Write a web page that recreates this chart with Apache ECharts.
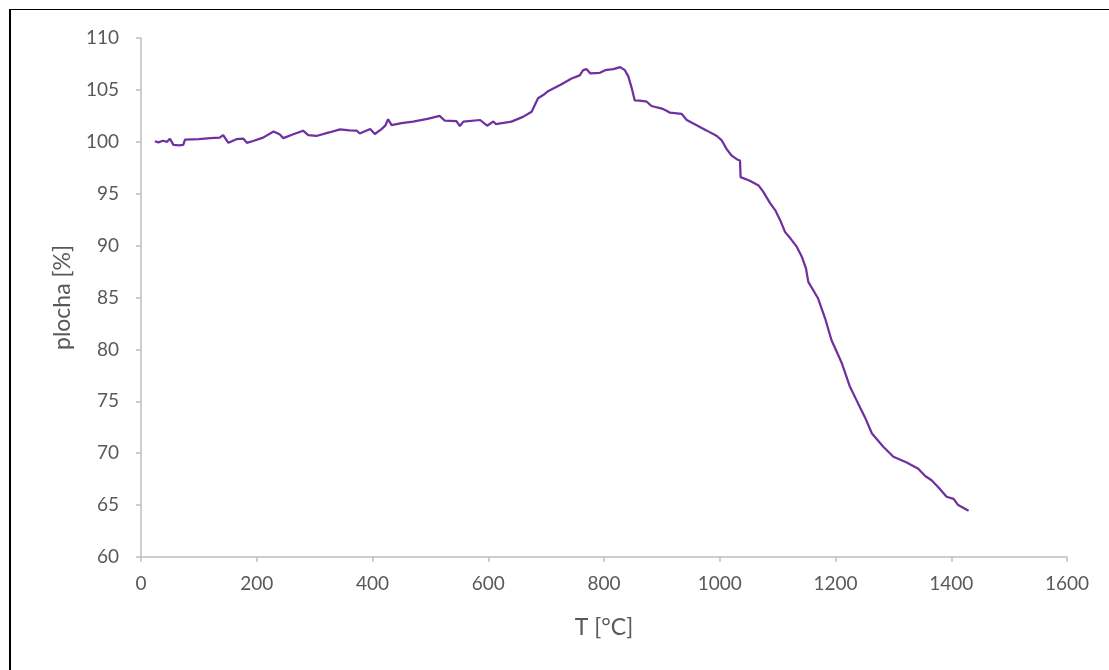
<!DOCTYPE html>
<html>
<head>
<meta charset="utf-8">
<script src="https://cdn.jsdelivr.net/npm/echarts@6/dist/echarts.min.js"></script>
<style>
html,body{margin:0;padding:0;background:#fff;}
#c{width:1109px;height:670px;position:relative;}
#frame{position:absolute;left:9px;top:9px;width:1200px;height:800px;border-left:2px solid #000;border-top:1px solid #000;box-sizing:border-box;pointer-events:none;}
</style>
</head>
<body>
<div id="c"></div>
<div id="frame"></div>
<script>
const temps = [24,30,38,45,50,56,66,73,76,100,120,136,142,151,165,177,183,195,211,229,240,246,262,280,289,303,325,344,360,373,378,396,404,415,422,427,433,450,470,495,516,525,545,551,557,586,598,609,613,640,660,675,686,695,704,725,744,758,764,770,776,793,802,816,828,836,842,848,853,862,874,882,900,908,914,934,943,960,977,995,1003,1012,1020,1030,1035,1036,1052,1067,1075,1087,1096,1104,1113,1122,1133,1142,1149,1153,1170,1182,1193,1211,1225,1239,1251,1263,1283,1300,1323,1343,1355,1366,1378,1392,1404,1412,1430];
const area = [100.05,99.95,100.1,100.0,100.3,99.7,99.65,99.7,100.2,100.25,100.35,100.4,100.65,99.9,100.25,100.3,99.9,100.1,100.4,101.0,100.7,100.35,100.7,101.07,100.65,100.56,100.9,101.2,101.1,101.07,100.8,101.23,100.75,101.2,101.55,102.17,101.6,101.8,101.94,102.2,102.5,102.03,102.0,101.52,101.94,102.1,101.55,101.97,101.7,101.94,102.4,102.9,104.2,104.5,104.9,105.5,106.1,106.4,106.9,107.0,106.6,106.65,106.9,107.0,107.2,106.9,106.3,105.15,104.0,103.96,103.86,103.45,103.2,103.0,102.8,102.7,102.1,101.6,101.1,100.56,100.17,99.3,98.7,98.3,98.2,96.6,96.25,95.8,95.2,94.1,93.4,92.5,91.3,90.7,89.9,88.9,87.8,86.5,84.9,83.0,80.9,78.66,76.4,74.8,73.45,71.9,70.6,69.66,69.1,68.5,67.8,67.4,66.7,65.8,65.6,65.0,64.45];
const xTicks = {min:0, max:1600, interval:200};
const yTicks = {min:60, max:110, interval:5};
const xName = 'T [°C]';
const yName = 'plocha [%]';

const chart = echarts.init(document.getElementById('c'), null, {renderer:'canvas'});
const font = 'Lato, "Open Sans", sans-serif';
const data = temps.map((t,i)=>[t, area[i]]);
chart.setOption({
  animation:false,
  grid:{left:141, top:38, right:42, bottom:113, containLabel:false},
  xAxis:{
    type:'value', min:xTicks.min, max:xTicks.max, interval:xTicks.interval,
    name:xName, nameLocation:'middle', nameGap:59,
    nameTextStyle:{color:'#595959', fontSize:23, fontFamily:font},
    axisLine:{show:true, lineStyle:{color:'#bfbfbf', width:1.5}},
    axisTick:{show:true, inside:false, length:5, lineStyle:{color:'#bfbfbf', width:1.5}},
    axisLabel:{color:'#595959', fontSize:19, fontFamily:font, margin:17, formatter:v=>String(v)},
    splitLine:{show:false}
  },
  yAxis:{
    type:'value', min:yTicks.min, max:yTicks.max, interval:yTicks.interval,
    name:yName, nameLocation:'middle', nameGap:67, nameRotate:90,
    nameTextStyle:{color:'#595959', fontSize:23, fontFamily:font},
    axisLine:{show:true, lineStyle:{color:'#bfbfbf', width:1.5}},
    axisTick:{show:true, inside:false, length:5, lineStyle:{color:'#bfbfbf', width:1.5}},
    axisLabel:{color:'#595959', fontSize:19, fontFamily:font, margin:22, formatter:v=>String(v)},
    splitLine:{show:false}
  },
  series:[{
    type:'line', data:data, showSymbol:false, symbol:'none', smooth:false,
    lineStyle:{color:'#7030A0', width:2.25}
  }]
});
</script>
</body>
</html>
